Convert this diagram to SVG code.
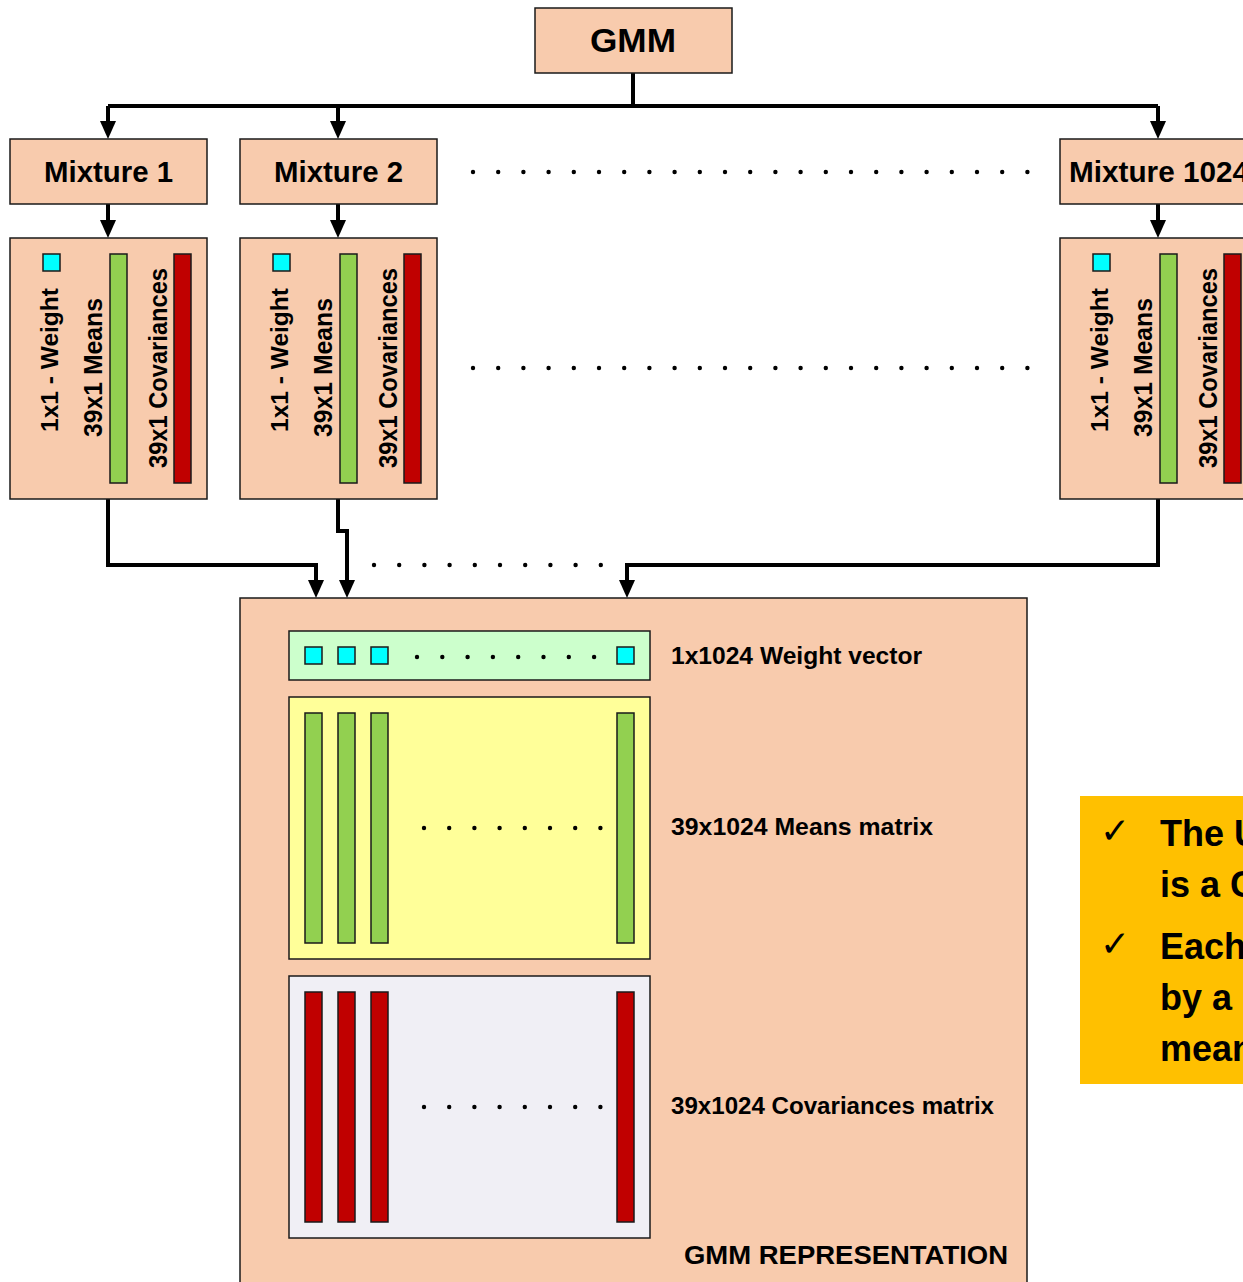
<svg xmlns="http://www.w3.org/2000/svg" width="1243" height="1282" viewBox="0 0 1243 1282">
<style>
.box{fill:#F8CBAD;stroke:#1a1a1a;stroke-width:1.5}
.cyan{fill:#00FFFF;stroke:#1a1a1a;stroke-width:1.5}
.green{fill:#92D050;stroke:#1a1a1a;stroke-width:1.5}
.red{fill:#C00000;stroke:#1a1a1a;stroke-width:1.5}
.t{font-family:"Liberation Sans",Arial,sans-serif;font-weight:bold;fill:#000}
.conn{fill:none;stroke:#000;stroke-width:4}
.dot{fill:#000}
.chk{font-family:"DejaVu Sans",sans-serif;font-size:36px;fill:#000}
</style>
<defs>
<marker id="ah" viewBox="0 0 18 16" refX="7" refY="8" markerWidth="18" markerHeight="16" markerUnits="userSpaceOnUse" orient="auto">
<path d="M0,0 L18,8 L0,16 Z" fill="#000"/>
</marker>
</defs>
<rect width="1243" height="1282" fill="#fff"/>

<g id="connectors">
<path class="conn" d="M633,73 V106"/>
<path class="conn" d="M108,106 H1158"/>
<path class="conn" d="M108,106 V128" marker-end="url(#ah)"/>
<path class="conn" d="M338,106 V128" marker-end="url(#ah)"/>
<path class="conn" d="M1158,106 V128" marker-end="url(#ah)"/>
<path class="conn" d="M108,204 V227" marker-end="url(#ah)"/>
<path class="conn" d="M338,204 V227" marker-end="url(#ah)"/>
<path class="conn" d="M1158,204 V227" marker-end="url(#ah)"/>
<path class="conn" d="M108,499 V565 H316 V587" marker-end="url(#ah)"/>
<path class="conn" d="M338,499 V531 H347 V587" marker-end="url(#ah)"/>
<path class="conn" d="M1158,499 V565 H627 V587" marker-end="url(#ah)"/>
</g>

<g id="gmm">
<rect class="box" x="535" y="8" width="197" height="65"/>
<text class="t" x="633" y="52" font-size="33" text-anchor="middle" textLength="86" lengthAdjust="spacingAndGlyphs">GMM</text>
</g>

<g id="mixture1">
<rect class="box" x="10" y="139" width="197" height="65"/>
<text class="t" x="108.5" y="182" font-size="29" text-anchor="middle" textLength="129" lengthAdjust="spacingAndGlyphs">Mixture 1</text>
</g>
<g id="mixture2">
<rect class="box" x="240" y="139" width="197" height="65"/>
<text class="t" x="338.5" y="182" font-size="29" text-anchor="middle" textLength="129" lengthAdjust="spacingAndGlyphs">Mixture 2</text>
</g>
<g id="mixture1024">
<rect class="box" x="1060" y="139" width="210" height="65"/>
<text class="t" x="1069" y="182" font-size="29" textLength="180" lengthAdjust="spacingAndGlyphs">Mixture 1024</text>
</g>

<g id="params1">
<rect class="box" x="10" y="238" width="197" height="261"/>
<rect class="cyan" x="43" y="254" width="17" height="17"/>
<rect class="green" x="110" y="254" width="17" height="229"/>
<rect class="red" x="174" y="254" width="17" height="229"/>
<text class="t" transform="translate(58,432) rotate(-90)" font-size="24" textLength="144" lengthAdjust="spacingAndGlyphs">1x1 - Weight</text>
<text class="t" transform="translate(102,437) rotate(-90)" font-size="25" textLength="139" lengthAdjust="spacingAndGlyphs">39x1 Means</text>
<text class="t" transform="translate(167,468) rotate(-90)" font-size="25" textLength="200" lengthAdjust="spacingAndGlyphs">39x1 Covariances</text>
</g>
<g id="params2">
<rect class="box" x="240" y="238" width="197" height="261"/>
<rect class="cyan" x="273" y="254" width="17" height="17"/>
<rect class="green" x="340" y="254" width="17" height="229"/>
<rect class="red" x="404" y="254" width="17" height="229"/>
<text class="t" transform="translate(288,432) rotate(-90)" font-size="24" textLength="144" lengthAdjust="spacingAndGlyphs">1x1 - Weight</text>
<text class="t" transform="translate(332,437) rotate(-90)" font-size="25" textLength="139" lengthAdjust="spacingAndGlyphs">39x1 Means</text>
<text class="t" transform="translate(397,468) rotate(-90)" font-size="25" textLength="200" lengthAdjust="spacingAndGlyphs">39x1 Covariances</text>
</g>
<g id="params1024">
<rect class="box" x="1060" y="238" width="210" height="261"/>
<rect class="cyan" x="1093" y="254" width="17" height="17"/>
<rect class="green" x="1160" y="254" width="17" height="229"/>
<rect class="red" x="1224" y="254" width="17" height="229"/>
<text class="t" transform="translate(1108,432) rotate(-90)" font-size="24" textLength="144" lengthAdjust="spacingAndGlyphs">1x1 - Weight</text>
<text class="t" transform="translate(1152,437) rotate(-90)" font-size="25" textLength="139" lengthAdjust="spacingAndGlyphs">39x1 Means</text>
<text class="t" transform="translate(1217,468) rotate(-90)" font-size="25" textLength="200" lengthAdjust="spacingAndGlyphs">39x1 Covariances</text>
</g>

<g id="ellipsis-dots" class="dot">
<g transform="translate(473,172)">
<circle cx="0" cy="0" r="2.2"/><circle cx="25.2" cy="0" r="2.2"/><circle cx="50.4" cy="0" r="2.2"/><circle cx="75.6" cy="0" r="2.2"/><circle cx="100.8" cy="0" r="2.2"/><circle cx="126" cy="0" r="2.2"/><circle cx="151.2" cy="0" r="2.2"/><circle cx="176.4" cy="0" r="2.2"/><circle cx="201.6" cy="0" r="2.2"/><circle cx="226.8" cy="0" r="2.2"/><circle cx="252" cy="0" r="2.2"/><circle cx="277.2" cy="0" r="2.2"/><circle cx="302.4" cy="0" r="2.2"/><circle cx="327.6" cy="0" r="2.2"/><circle cx="352.8" cy="0" r="2.2"/><circle cx="378" cy="0" r="2.2"/><circle cx="403.2" cy="0" r="2.2"/><circle cx="428.4" cy="0" r="2.2"/><circle cx="453.6" cy="0" r="2.2"/><circle cx="478.8" cy="0" r="2.2"/><circle cx="504" cy="0" r="2.2"/><circle cx="529.2" cy="0" r="2.2"/><circle cx="554.4" cy="0" r="2.2"/>
</g>
<g transform="translate(473,368)">
<circle cx="0" cy="0" r="2.2"/><circle cx="25.2" cy="0" r="2.2"/><circle cx="50.4" cy="0" r="2.2"/><circle cx="75.6" cy="0" r="2.2"/><circle cx="100.8" cy="0" r="2.2"/><circle cx="126" cy="0" r="2.2"/><circle cx="151.2" cy="0" r="2.2"/><circle cx="176.4" cy="0" r="2.2"/><circle cx="201.6" cy="0" r="2.2"/><circle cx="226.8" cy="0" r="2.2"/><circle cx="252" cy="0" r="2.2"/><circle cx="277.2" cy="0" r="2.2"/><circle cx="302.4" cy="0" r="2.2"/><circle cx="327.6" cy="0" r="2.2"/><circle cx="352.8" cy="0" r="2.2"/><circle cx="378" cy="0" r="2.2"/><circle cx="403.2" cy="0" r="2.2"/><circle cx="428.4" cy="0" r="2.2"/><circle cx="453.6" cy="0" r="2.2"/><circle cx="478.8" cy="0" r="2.2"/><circle cx="504" cy="0" r="2.2"/><circle cx="529.2" cy="0" r="2.2"/><circle cx="554.4" cy="0" r="2.2"/>
</g>
<g transform="translate(374,565)">
<circle cx="0" cy="0" r="2.2"/><circle cx="25.2" cy="0" r="2.2"/><circle cx="50.4" cy="0" r="2.2"/><circle cx="75.6" cy="0" r="2.2"/><circle cx="100.8" cy="0" r="2.2"/><circle cx="126" cy="0" r="2.2"/><circle cx="151.2" cy="0" r="2.2"/><circle cx="176.4" cy="0" r="2.2"/><circle cx="201.6" cy="0" r="2.2"/><circle cx="226.8" cy="0" r="2.2"/>
</g>
</g>

<g id="gmm-representation">
<rect class="box" x="240" y="598" width="787" height="700"/>
<text class="t" x="684" y="1264" font-size="26" textLength="324" lengthAdjust="spacingAndGlyphs">GMM REPRESENTATION</text>
</g>

<g id="weight-vector">
<rect x="289" y="631" width="361" height="49" fill="#CCFFCC" stroke="#1a1a1a" stroke-width="1.5"/>
<rect class="cyan" x="305" y="647" width="17" height="17"/>
<rect class="cyan" x="338" y="647" width="17" height="17"/>
<rect class="cyan" x="371" y="647" width="17" height="17"/>
<rect class="cyan" x="617" y="647" width="17" height="17"/>
<g class="dot" transform="translate(417,657)">
<circle cx="0" cy="0" r="2.2"/><circle cx="25.3" cy="0" r="2.2"/><circle cx="50.6" cy="0" r="2.2"/><circle cx="75.9" cy="0" r="2.2"/><circle cx="101.2" cy="0" r="2.2"/><circle cx="126.5" cy="0" r="2.2"/><circle cx="151.8" cy="0" r="2.2"/><circle cx="177.1" cy="0" r="2.2"/>
</g>
<text class="t" x="671" y="664" font-size="23" textLength="251" lengthAdjust="spacingAndGlyphs">1x1024 Weight vector</text>
</g>

<g id="means-matrix">
<rect x="289" y="697" width="361" height="262" fill="#FFFF99" stroke="#1a1a1a" stroke-width="1.5"/>
<rect class="green" x="305" y="713" width="17" height="230"/>
<rect class="green" x="338" y="713" width="17" height="230"/>
<rect class="green" x="371" y="713" width="17" height="230"/>
<rect class="green" x="617" y="713" width="17" height="230"/>
<g class="dot" transform="translate(424,828)">
<circle cx="0" cy="0" r="2.2"/><circle cx="25.2" cy="0" r="2.2"/><circle cx="50.4" cy="0" r="2.2"/><circle cx="75.6" cy="0" r="2.2"/><circle cx="100.8" cy="0" r="2.2"/><circle cx="126" cy="0" r="2.2"/><circle cx="151.2" cy="0" r="2.2"/><circle cx="176.4" cy="0" r="2.2"/>
</g>
<text class="t" x="671" y="835" font-size="23" textLength="262" lengthAdjust="spacingAndGlyphs">39x1024 Means matrix</text>
</g>

<g id="covariances-matrix">
<rect x="289" y="976" width="361" height="262" fill="#F0EFF5" stroke="#1a1a1a" stroke-width="1.5"/>
<rect class="red" x="305" y="992" width="17" height="230"/>
<rect class="red" x="338" y="992" width="17" height="230"/>
<rect class="red" x="371" y="992" width="17" height="230"/>
<rect class="red" x="617" y="992" width="17" height="230"/>
<g class="dot" transform="translate(424,1107)">
<circle cx="0" cy="0" r="2.2"/><circle cx="25.2" cy="0" r="2.2"/><circle cx="50.4" cy="0" r="2.2"/><circle cx="75.6" cy="0" r="2.2"/><circle cx="100.8" cy="0" r="2.2"/><circle cx="126" cy="0" r="2.2"/><circle cx="151.2" cy="0" r="2.2"/><circle cx="176.4" cy="0" r="2.2"/>
</g>
<text class="t" x="671" y="1114" font-size="23" textLength="323" lengthAdjust="spacingAndGlyphs">39x1024 Covariances matrix</text>
</g>

<g id="note">
<rect x="1080" y="796" width="200" height="288" fill="#FFC000"/>
<text class="chk" x="1100" y="843">✓</text>
<text class="chk" x="1100" y="956">✓</text>
<text class="t" x="1160" y="846" font-size="36">The U</text>
<text class="t" x="1160" y="897" font-size="36">is a G</text>
<text class="t" x="1160" y="959" font-size="36">Each</text>
<text class="t" x="1160" y="1010" font-size="36">by a</text>
<text class="t" x="1160" y="1061" font-size="36">mean</text>
</g>
</svg>
